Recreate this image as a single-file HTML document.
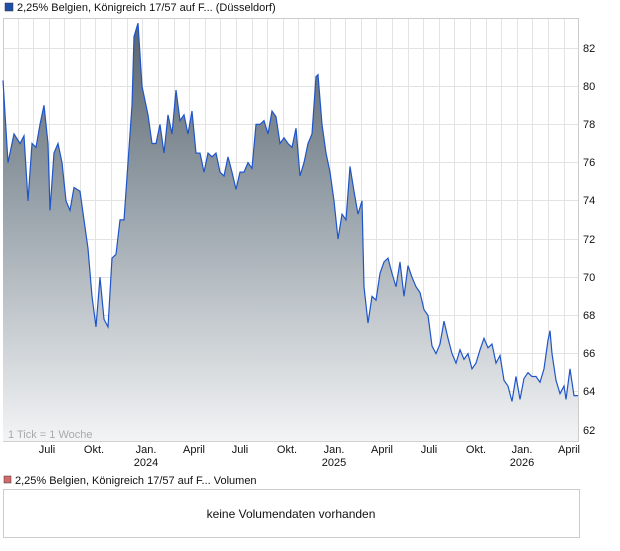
<!DOCTYPE html>
<html><head><meta charset="utf-8"><style>
body{margin:0;background:#fff;width:620px;height:546px;overflow:hidden;font-family:"Liberation Sans",sans-serif;}
svg text{font-family:"Liberation Sans",sans-serif;}
</style></head><body>
<svg width="620" height="546" viewBox="0 0 620 546">
<defs><linearGradient id="g" gradientUnits="userSpaceOnUse" x1="0" y1="83.5" x2="0" y2="61.4">
<stop offset="0" stop-color="#56626c"/><stop offset="0.45" stop-color="#9aa4ac"/><stop offset="1" stop-color="#f3f4f5"/></linearGradient></defs>
<rect x="5" y="3" width="8" height="8" fill="#1f4fa8" stroke="#333" stroke-width="0.5"/>
<text x="17" y="11" font-size="11" fill="#111">2,25% Belgien, Königreich 17/57 auf F... (Düsseldorf)</text>
<rect x="3.5" y="18.5" width="575" height="423" fill="#fff" stroke="#ccc"/>
<g stroke="#e3e3e3" stroke-width="1">
<path d="M18.5 19V441M33.5 19V441M49.5 19V441M64.5 19V441M80.5 19V441M95.5 19V441M111.5 19V441M127.5 19V441M142.5 19V441M158.5 19V441M174.5 19V441M189.5 19V441M205.5 19V441M220.5 19V441M236.5 19V441M252.5 19V441M267.5 19V441M283.5 19V441M298.5 19V441M314.5 19V441M330.5 19V441M345.5 19V441M361.5 19V441M376.5 19V441M392.5 19V441M408.5 19V441M423.5 19V441M439.5 19V441M454.5 19V441M470.5 19V441M486.5 19V441M501.5 19V441M517.5 19V441M532.5 19V441M548.5 19V441M564.5 19V441"/>
<path d="M4 48.5H578M4 86.5H578M4 124.5H578M4 162.5H578M4 200.5H578M4 239.5H578M4 277.5H578M4 315.5H578M4 353.5H578M4 391.5H578M4 429.5H578"/>
</g>
<g transform="translate(0,430) scale(1,-19.1) translate(0,-62)">
<path fill="url(#g)" stroke="none" d="M3 61.42L3 80.3 8 76 14 77.5 20 77 24 77.4 28 74 32 77 36 76.8 40 78 44 79 48 77 50 73.5 54 76.5 58 77 62 76 66 74 70 73.5 74 74.7 80 74.5 84 73 88 71.5 92 69 96 67.4 100 70 104 67.8 108 67.4 112 71 116 71.2 120 73 124 73 128 76 132 79 134 82.6 138 83.3 142 80 148 78.5 152 77 156 77 160 78 164 76.5 168 78.5 172 77.5 176 79.8 180 78.2 184 78.5 188 77.5 192 78.7 196 76.5 200 76.5 204 75.5 208 76.5 212 76.3 216 76.5 220 75.5 224 75.3 228 76.3 232 75.5 236 74.6 240 75.5 244 75.5 248 76 252 75.7 256 78 260 78 264 78.2 268 77.5 272 78.7 276 78.4 280 77 284 77.3 288 77 292 76.8 296 77.8 300 75.3 304 76 308 77 312 77.5 316 80.5 318 80.6 322 78 326 76.5 330 75.5 334 74 338 72 342 73.3 346 73 350 75.8 354 74.5 358 73.3 362 74 364 69.5 368 67.6 372 69 376 68.8 380 70.2 384 70.8 388 71 392 70.2 396 69.5 400 70.8 404 69 408 70.6 412 70 416 69.5 420 69.2 424 68.3 428 68 432 66.4 436 66 440 66.5 444 67.7 448 66.8 452 66 456 65.5 460 66.2 464 65.7 468 66 472 65.2 476 65.5 480 66.2 484 66.8 488 66.3 492 66.5 496 65.5 500 65.9 504 64.6 508 64.3 512 63.5 516 64.8 520 63.6 524 64.7 528 65 532 64.8 536 64.8 540 64.5 544 65.2 548 66.7 550 67.2 552 66 556 64.6 560 63.9 564 64.3 566 63.6 570 65.2 574 63.8 578 63.8 578 61.42Z"/>
<path fill="none" stroke="#1f55c8" stroke-width="1.2" vector-effect="non-scaling-stroke" d="M3 80.3 8 76 14 77.5 20 77 24 77.4 28 74 32 77 36 76.8 40 78 44 79 48 77 50 73.5 54 76.5 58 77 62 76 66 74 70 73.5 74 74.7 80 74.5 84 73 88 71.5 92 69 96 67.4 100 70 104 67.8 108 67.4 112 71 116 71.2 120 73 124 73 128 76 132 79 134 82.6 138 83.3 142 80 148 78.5 152 77 156 77 160 78 164 76.5 168 78.5 172 77.5 176 79.8 180 78.2 184 78.5 188 77.5 192 78.7 196 76.5 200 76.5 204 75.5 208 76.5 212 76.3 216 76.5 220 75.5 224 75.3 228 76.3 232 75.5 236 74.6 240 75.5 244 75.5 248 76 252 75.7 256 78 260 78 264 78.2 268 77.5 272 78.7 276 78.4 280 77 284 77.3 288 77 292 76.8 296 77.8 300 75.3 304 76 308 77 312 77.5 316 80.5 318 80.6 322 78 326 76.5 330 75.5 334 74 338 72 342 73.3 346 73 350 75.8 354 74.5 358 73.3 362 74 364 69.5 368 67.6 372 69 376 68.8 380 70.2 384 70.8 388 71 392 70.2 396 69.5 400 70.8 404 69 408 70.6 412 70 416 69.5 420 69.2 424 68.3 428 68 432 66.4 436 66 440 66.5 444 67.7 448 66.8 452 66 456 65.5 460 66.2 464 65.7 468 66 472 65.2 476 65.5 480 66.2 484 66.8 488 66.3 492 66.5 496 65.5 500 65.9 504 64.6 508 64.3 512 63.5 516 64.8 520 63.6 524 64.7 528 65 532 64.8 536 64.8 540 64.5 544 65.2 548 66.7 550 67.2 552 66 556 64.6 560 63.9 564 64.3 566 63.6 570 65.2 574 63.8 578 63.8"/>
</g>
<text x="8" y="438" font-size="11" fill="#aaa">1 Tick = 1 Woche</text>
<g font-size="11" fill="#111">
<text x="583" y="52">82</text><text x="583" y="90">80</text><text x="583" y="128">78</text><text x="583" y="166">76</text><text x="583" y="204">74</text><text x="583" y="243">72</text><text x="583" y="281">70</text><text x="583" y="319">68</text><text x="583" y="357">66</text><text x="583" y="395">64</text><text x="583" y="434">62</text>
</g>
<g font-size="11" fill="#111" text-anchor="middle">
<text x="47" y="453">Juli</text><text x="94" y="453">Okt.</text><text x="146" y="453">Jan.</text><text x="146" y="466">2024</text><text x="194" y="453">April</text><text x="240" y="453">Juli</text><text x="287" y="453">Okt.</text><text x="334" y="453">Jan.</text><text x="334" y="466">2025</text><text x="382" y="453">April</text><text x="429" y="453">Juli</text><text x="476" y="453">Okt.</text><text x="522" y="453">Jan.</text><text x="522" y="466">2026</text><text x="569" y="453">April</text>
</g>
<rect x="4" y="476" width="7" height="7" fill="#d46a6a" stroke="#333" stroke-width="0.5"/>
<text x="15" y="484" font-size="11" fill="#111">2,25% Belgien, Königreich 17/57 auf F... Volumen</text>
<rect x="3.5" y="489.5" width="576" height="48" fill="#fff" stroke="#ccc"/>
<text x="291" y="518" font-size="12" fill="#111" text-anchor="middle">keine Volumendaten vorhanden</text>
</svg>
</body></html>
